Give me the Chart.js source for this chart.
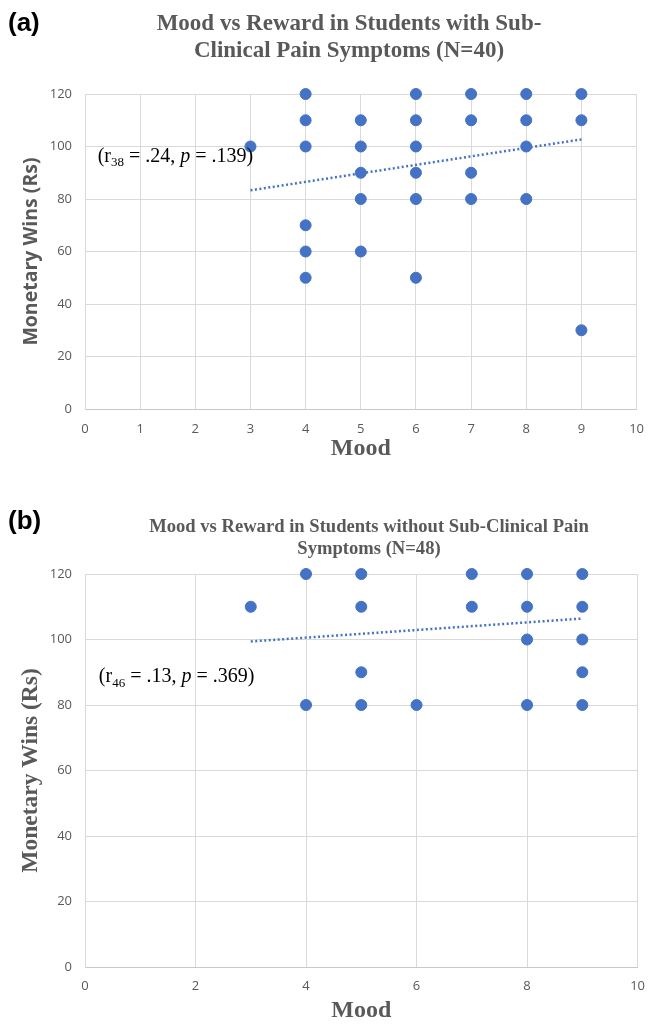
<!DOCTYPE html>
<html lang="en">
<head>
  <meta charset="UTF-8" />
  <title>Mood vs Reward</title>
  <style>
    body {
      margin: 0;
      width: 656px;
      height: 1025px;
      background: #fff;
      overflow: hidden;
      position: relative;
      font-family: 'Liberation Serif', 'Times New Roman', serif;
    }
    .panel {
      position: absolute;
      left: 0;
      width: 656px;
    }
    .tag {
      position: absolute;
      left: 8px;
      font-family: 'Liberation Sans', Arial, sans-serif;
      font-weight: bold;
      font-size: 26px;
      line-height: 26px;
      color: #000;
    }
    .title {
      position: absolute;
      text-align: center;
      font-weight: bold;
      color: #595959;
    }
  </style>
</head>
<body>
  <div class="panel" style="top:0;height:490px">
    <canvas id="chartA" width="656" height="490"></canvas>
  </div>
  <div class="panel" style="top:490px;height:535px">
    <canvas id="chartB" width="656" height="535"></canvas>
  </div>

  <div class="tag" style="top:9px">(a)</div>
  <div class="title" style="left:99px;width:500px;top:9px;font-size:23px;line-height:27px">
    Mood vs Reward in Students with Sub-<br>Clinical Pain Symptoms (N=40)
  </div>

  <div class="tag" style="top:507px">(b)</div>
  <div class="title" style="left:119px;width:500px;top:515px;font-size:18.6px;line-height:21.5px">
    Mood vs Reward in Students without Sub-Clinical Pain<br>Symptoms (N=48)
  </div>

  <script src="https://cdn.jsdelivr.net/npm/chart.js"></script>
  <script>
    // panel (a): with sub-clinical pain
    const moodA = [3, 4, 4, 4, 4, 4, 4, 5, 5, 5, 5, 5, 6, 6, 6, 6, 6, 6, 7, 7, 7, 7, 8, 8, 8, 8, 9, 9, 9];
    const winsA = [100, 120, 110, 100, 70, 60, 50, 110, 100, 90, 80, 60, 120, 110, 100, 90, 80, 50, 120, 110, 90, 80, 120, 110, 100, 80, 120, 110, 30];
    const trendMoodA = [3, 9];
    const trendWinsA = [83.3, 102.7];

    // panel (b): without sub-clinical pain
    const moodB = [3, 4, 4, 5, 5, 5, 5, 6, 7, 7, 8, 8, 8, 8, 9, 9, 9, 9, 9];
    const winsB = [110, 120, 80, 120, 110, 90, 80, 80, 120, 110, 120, 110, 100, 80, 120, 110, 100, 90, 80];
    const trendMoodB = [3, 9];
    const trendWinsB = [99.4, 106.4];

    const blue = '#4472C4';
    const gray = '#595959';

    Chart.defaults.font.family = '"Open Sans", sans-serif';

    function toPoints(xs, ys) {
      return xs.map((x, i) => ({ x: x, y: ys[i] }));
    }

    // draws "(r_df = .xx, p = .xxx)" at a data position
    function statsNote(id, df, r, p, atX, atY) {
      return {
        id: id,
        afterDatasetsDraw(chart) {
          const ctx = chart.ctx;
          let x = chart.scales.x.getPixelForValue(atX);
          const y = chart.scales.y.getPixelForValue(atY);
          const parts = [
            ['(r', '20px "Liberation Serif"', 0],
            [df, '13px "Liberation Serif"', 6],
            [' = ' + r + ', ', '20px "Liberation Serif"', 0],
            ['p', 'italic 20px "Liberation Serif"', 0],
            [' = ' + p + ')', '20px "Liberation Serif"', 0]
          ];
          ctx.save();
          ctx.fillStyle = '#000';
          ctx.textBaseline = 'middle';
          ctx.textAlign = 'left';
          parts.forEach(([txt, font, dy]) => {
            ctx.font = font;
            ctx.fillText(txt, x, y + dy);
            x += ctx.measureText(txt).width;
          });
          ctx.restore();
        }
      };
    }

    function makeChart(el, cfg) {
      return new Chart(document.getElementById(el), {
        type: 'scatter',
        data: {
          datasets: [
            {
              label: 'Points',
              data: toPoints(cfg.mood, cfg.wins),
              backgroundColor: blue,
              borderColor: blue,
              pointRadius: 5.5,
              pointHoverRadius: 5.5,
              clip: false
            },
            {
              label: 'Linear trend',
              data: toPoints(cfg.trendMood, cfg.trendWins),
              showLine: true,
              borderColor: blue,
              borderWidth: 2.5,
              borderDash: [2, 2.5],
              pointRadius: 0,
              fill: false
            }
          ]
        },
        options: {
          responsive: false,
          animation: false,
          layout: { padding: { top: cfg.top, right: cfg.right, left: 0, bottom: 0 } },
          plugins: {
            legend: { display: false },
            tooltip: { enabled: false }
          },
          scales: {
            x: {
              type: 'linear',
              min: 0,
              max: 10,
              ticks: { stepSize: cfg.xStep, color: gray, font: { size: 13 }, padding: cfg.xTickPad },
              grid: { color: '#d9d9d9', drawTicks: false },
              border: { color: '#c8c8c8' },
              title: {
                display: true,
                text: 'Mood',
                color: gray,
                font: { family: '"Liberation Serif", serif', size: 24, weight: 'bold' },
                padding: { top: 0, bottom: cfg.xTitlePad }
              },
              afterFit(s) { s.height = cfg.xHeight; }
            },
            y: {
              min: 0,
              max: 120,
              ticks: { stepSize: 20, color: gray, font: { size: 13 }, padding: 13 },
              grid: { color: '#d9d9d9', drawTicks: false },
              border: { color: '#d9d9d9' },
              title: {
                display: true,
                text: 'Monetary Wins (Rs)',
                color: gray,
                font: cfg.yFont,
                padding: { top: cfg.yTitlePad, bottom: 0 }
              },
              afterFit(s) { s.width = 85; }
            }
          }
        },
        plugins: [cfg.note]
      });
    }

    makeChart('chartA', {
      mood: moodA, wins: winsA, trendMood: trendMoodA, trendWins: trendWinsA,
      top: 94, right: 10, xStep: 1, xTickPad: 12, xHeight: 81, xTitlePad: 27,
      yFont: { family: '"Open Sans", sans-serif', size: 19.5, weight: 'bold' },
      yTitlePad: 20,
      note: statsNote('noteA', '38', '.24', '.139', 0.23, 96)
    });

    makeChart('chartB', {
      mood: moodB, wins: winsB, trendMood: trendMoodB, trendWins: trendWinsB,
      top: 84, right: 13, xStep: 2, xTickPad: 11, xHeight: 58, xTitlePad: 0,
      yFont: { family: '"Liberation Serif", serif', size: 23.5, weight: 'bold' },
      yTitlePad: 17,
      note: statsNote('noteB', '46', '.13', '.369', 0.25, 88.5)
    });
  </script>
</body>
</html>
